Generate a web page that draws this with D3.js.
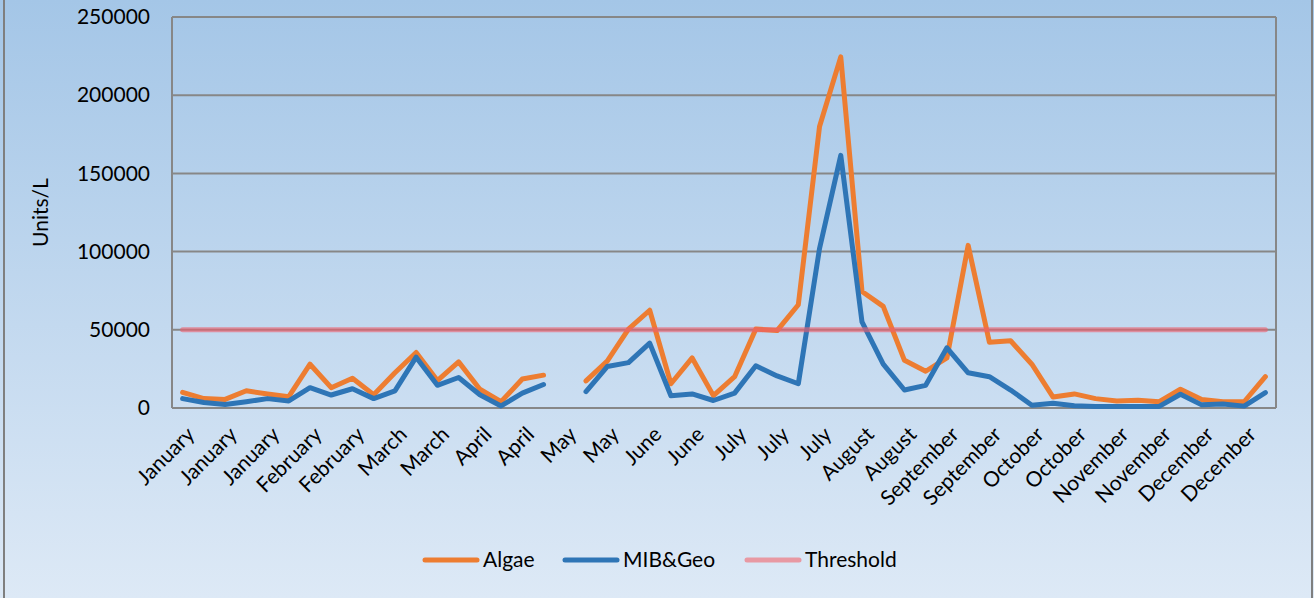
<!DOCTYPE html>
<html>
<head>
<meta charset="utf-8">
<script src="https://cdn.jsdelivr.net/npm/d3@7"></script>
<style>
  html, body { margin: 0; padding: 0; background: #ffffff; }
  svg { display: block; font-family: Lato, "Open Sans", sans-serif; }
</style>
</head>
<body>
<svg id="chart" width="1314" height="598"></svg>
<script>
// Weekly categories (one per week of the year)
const categories = [
  "January","January","January","January","January",
  "February","February","February","February",
  "March","March","March","March",
  "April","April","April","April","April",
  "May","May","May",
  "June","June","June","June",
  "July","July","July","July","July","July",
  "August","August","August","August","August",
  "September","September","September","September",
  "October","October","October","October",
  "November","November","November","November",
  "December","December","December","December"
];

// Weekly measurements in Units/L (null = no sample)
const algae = [
  10000, 6000, 5500, 11000, 9000, 7200, 28000, 13000, 19000, 8500,
  22500, 35500, 17500, 29500, 12000, 4000, 18500, 21000, null, 17300,
  30000, 50500, 62500, 15500, 32000, 7900, 20000, 50500, 49500, 66000,
  180000, 224500, 74500, 65000, 30500, 23500, 32000, 104000, 42000, 43000,
  28000, 7000, 9000, 6000, 4500, 5000, 4000, 12000, 5500, 4000,
  4000, 20000
];
const mibGeo = [
  6000, 3500, 2200, 4000, 6000, 4500, 13000, 8300, 12300, 6000,
  11000, 32500, 14500, 19500, 8500, 1300, 9500, 15000, null, 10500,
  26500, 29000, 41500, 7800, 9000, 4800, 9500, 27000, 20500, 15500,
  102000, 161500, 55000, 28000, 11500, 14500, 38500, 22500, 20000, 11500,
  1800, 3000, 1500, 900, 900, 900, 1000, 8800, 2000, 2600,
  1200, 9800
];
const thresholdValue = 50000;
const threshold = categories.map(() => thresholdValue);

const yTicks = [0, 50000, 100000, 150000, 200000, 250000];
const seriesNames = ["Algae", "MIB&Geo", "Threshold"];
const seriesColors = ["#ED7D31", "#2E75B6", "rgba(238,96,110,0.62)"];

const svg = d3.select("#chart");
const W = 1314, H = 598;
const plot = { left: 172, right: 1276, top: 17, bottom: 408 };

// Background gradient
const defs = svg.append("defs");
const grad = defs.append("linearGradient")
  .attr("id", "bg").attr("x1", 0).attr("y1", 0).attr("x2", 0).attr("y2", 1);
grad.append("stop").attr("offset", "0%").attr("stop-color", "#a4c6e7");
grad.append("stop").attr("offset", "100%").attr("stop-color", "#dde9f6");

svg.append("rect").attr("x", 0).attr("y", 0).attr("width", W).attr("height", H)
  .attr("fill", "url(#bg)");
svg.append("rect").attr("x", 4).attr("y", -10).attr("width", 1308).attr("height", H + 20)
  .attr("fill", "none").attr("stroke", "#7f7f7f").attr("stroke-width", 2);

const idx = d3.range(categories.length);
const x = d3.scalePoint().domain(idx).range([plot.left, plot.right]).padding(0.5);
const y = d3.scaleLinear().domain([0, 250000]).range([plot.bottom, plot.top]);

// Horizontal gridlines
svg.append("g")
  .selectAll("line").data(yTicks).join("line")
  .attr("x1", plot.left).attr("x2", plot.right)
  .attr("y1", d => y(d)).attr("y2", d => y(d))
  .attr("stroke", "#878787").attr("stroke-width", 2);

// Plot frame (left and right edges)
svg.append("line").attr("x1", plot.left).attr("x2", plot.left)
  .attr("y1", plot.top).attr("y2", plot.bottom)
  .attr("stroke", "#878787").attr("stroke-width", 2);
svg.append("line").attr("x1", plot.right).attr("x2", plot.right)
  .attr("y1", plot.top).attr("y2", plot.bottom)
  .attr("stroke", "#878787").attr("stroke-width", 2);

// Y axis labels
const yAxis = d3.axisLeft(y).tickValues(yTicks).tickSize(0).tickPadding(22)
  .tickFormat(d3.format("d"));
const gy = svg.append("g").attr("transform", `translate(${plot.left},0)`).call(yAxis);
gy.select(".domain").remove();
gy.selectAll("text").attr("font-size", 21).attr("fill", "#000")
  .attr("font-family", "Lato, 'Open Sans', sans-serif");

// Y axis title
svg.append("text")
  .attr("transform", `translate(48,${(plot.top + plot.bottom) / 2}) rotate(-90)`)
  .attr("text-anchor", "middle")
  .attr("font-size", 21).attr("fill", "#000")
  .text("Units/L");

// X axis labels (every second week)
const xAxis = d3.axisBottom(x)
  .tickValues(idx.filter(i => i % 2 === 0))
  .tickSize(0)
  .tickFormat(i => categories[i]);
const gx = svg.append("g").attr("transform", `translate(0,${plot.bottom})`).call(xAxis);
gx.select(".domain").remove();
gx.selectAll("text")
  .attr("font-size", 21).attr("fill", "#000")
  .attr("font-family", "Lato, 'Open Sans', sans-serif")
  .attr("text-anchor", "end")
  .attr("dy", null).attr("y", null)
  .attr("transform", "translate(9,24) rotate(-45)")
  .attr("dominant-baseline", "middle");

// Series lines
const line = d3.line()
  .defined(d => d != null)
  .x((d, i) => x(i))
  .y(d => y(d));

const series = [algae, mibGeo, threshold];
svg.append("g").selectAll("path").data(series).join("path")
  .attr("d", d => line(d))
  .attr("fill", "none")
  .attr("stroke", (d, i) => seriesColors[i])
  .attr("stroke-width", 5)
  .attr("stroke-linejoin", "round")
  .attr("stroke-linecap", "round");

// Legend
const legendX = [423, 563, 745];
const legendY = 560;
const lg = svg.append("g").selectAll("g").data(seriesNames).join("g")
  .attr("transform", (d, i) => `translate(${legendX[i]},${legendY})`);
lg.append("line").attr("x1", 2).attr("x2", 54).attr("y1", 0).attr("y2", 0)
  .attr("stroke", (d, i) => i === 2 ? "#e899a3" : seriesColors[i])
  .attr("stroke-width", 5).attr("stroke-linecap", "round");
lg.append("text").attr("x", 60).attr("y", 0).attr("dy", "0.35em")
  .attr("font-size", 21).attr("fill", "#000")
  .text(d => d);
</script>
</body>
</html>
